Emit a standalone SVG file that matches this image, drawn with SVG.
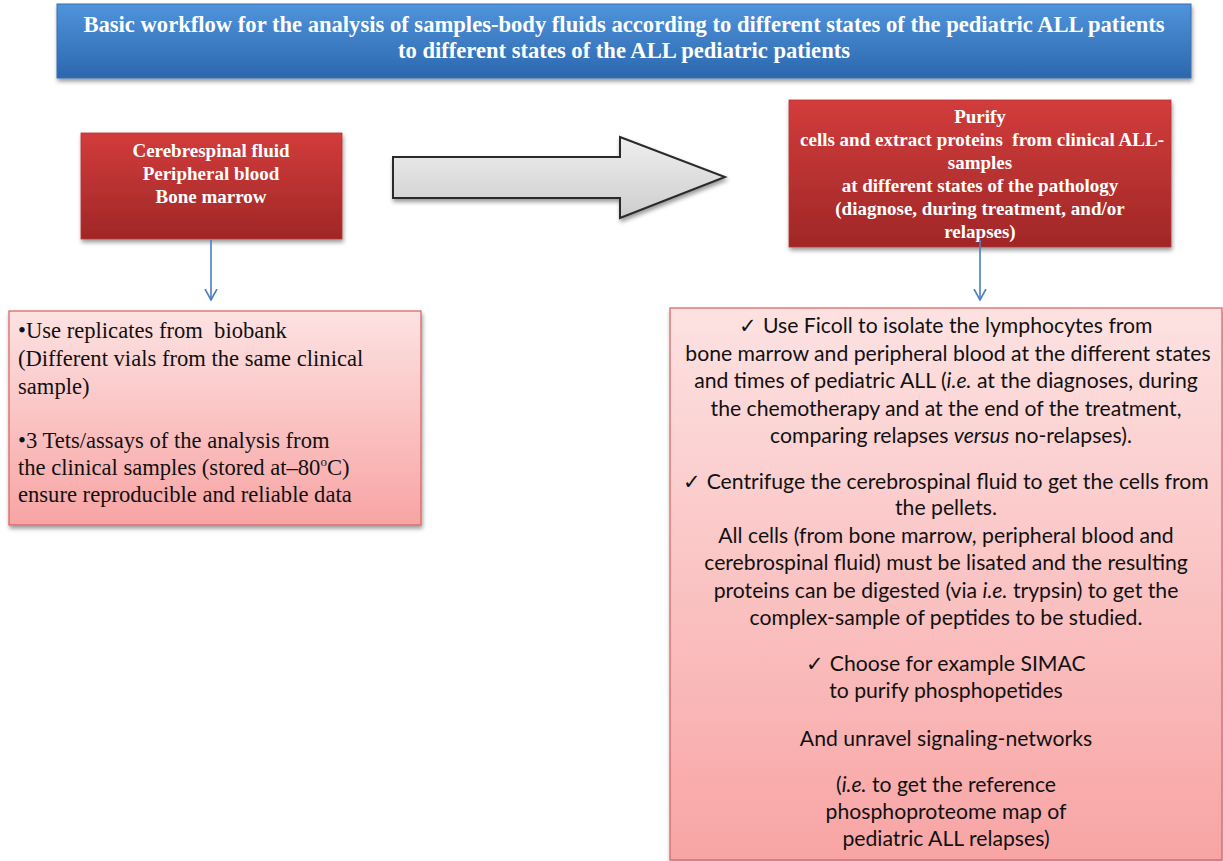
<svg xmlns="http://www.w3.org/2000/svg" width="1223" height="861" viewBox="0 0 1223 861">
<defs>
<linearGradient id="gBlue" x1="0" y1="0" x2="0" y2="1">
<stop offset="0" stop-color="#4f94dc"/><stop offset="1" stop-color="#2c67ae"/>
</linearGradient>
<linearGradient id="gRed" x1="0" y1="0" x2="0" y2="1">
<stop offset="0" stop-color="#d23c3b"/><stop offset="1" stop-color="#a02727"/>
</linearGradient>
<linearGradient id="gPink" x1="0" y1="0" x2="0" y2="1">
<stop offset="0" stop-color="#fde2e2"/><stop offset="1" stop-color="#f8a4a4"/>
</linearGradient>
<linearGradient id="gGray" x1="0" y1="0" x2="0" y2="1">
<stop offset="0" stop-color="#efefef"/><stop offset="1" stop-color="#cdcdcd"/>
</linearGradient>
<filter id="sh" x="-5%" y="-10%" width="110%" height="125%">
<feDropShadow dx="1" dy="3" stdDeviation="2" flood-color="#000" flood-opacity="0.4"/>
</filter>
<marker id="vh" viewBox="0 0 12 14" refX="11" refY="7" markerWidth="12" markerHeight="14" markerUnits="userSpaceOnUse" orient="auto">
<path d="M0,1 L11,7 L0,13" fill="none" stroke="#4a7fc1" stroke-width="1.6"/>
</marker>
</defs>
<style>
.title{font-family:"Liberation Serif",serif;font-weight:bold;font-size:22.6px;fill:#fff;text-anchor:middle}
.red{font-family:"Liberation Serif",serif;font-weight:bold;font-size:19px;fill:#fff;text-anchor:middle}
.lt{font-family:"Liberation Serif",serif;font-size:22.6px;fill:#111}
.rt{font-family:Lato,"Liberation Sans",sans-serif;font-size:21.2px;fill:#111;text-anchor:middle}
.conn{stroke:#4a7fc1;stroke-width:1.6;fill:none}
</style>
<rect width="1223" height="861" fill="#fff"/>

<g id="title">
<rect x="57" y="4" width="1134" height="74" fill="url(#gBlue)" stroke="#3a6fae" stroke-width="1" filter="url(#sh)"/>
<text class="title" x="624" y="32">Basic workflow for the analysis of samples-body fluids according to different states of the pediatric ALL patients</text>
<text class="title" x="624" y="58">to different states of the ALL pediatric patients</text>
</g>

<g id="sources">
<rect x="81" y="133" width="261" height="106" fill="url(#gRed)" stroke="#b33" stroke-width="0.8" filter="url(#sh)"/>
<text class="red" x="211" y="157">Cerebrespinal fluid</text>
<text class="red" x="211" y="180">Peripheral blood</text>
<text class="red" x="211" y="203">Bone marrow</text>
</g>

<g id="big-arrow">
<path d="M393,157 L620,157 L620,137 L725,177 L620,218 L620,198 L393,198 Z" fill="url(#gGray)" stroke="#2a2a2a" stroke-width="2" stroke-linejoin="miter" filter="url(#sh)"/>
</g>

<g id="purify">
<rect x="789" y="100" width="382" height="147" fill="url(#gRed)" stroke="#b33" stroke-width="0.8" filter="url(#sh)"/>
<text class="red" x="980" y="123">Purify</text>
<text class="red" x="982" y="146" xml:space="preserve">cells and extract proteins  from clinical ALL-</text>
<text class="red" x="980" y="169">samples</text>
<text class="red" x="980" y="192">at different states of the pathology</text>
<text class="red" x="980" y="215">(diagnose, during treatment, and/or</text>
<text class="red" x="980" y="238">relapses)</text>
</g>

<g id="replicates">
<rect x="9" y="311" width="412" height="214" fill="url(#gPink)" stroke="#d9605f" stroke-width="1.2" filter="url(#sh)"/>
<text class="lt" x="18" y="338" xml:space="preserve">•Use replicates from  biobank</text>
<text class="lt" x="18" y="366">(Different vials from the same clinical</text>
<text class="lt" x="18" y="394">sample)</text>
<text class="lt" x="18" y="448">•3 Tets/assays of the analysis from</text>
<text class="lt" x="18" y="475">the clinical samples (stored at–80<tspan font-size="13" dy="-9">o</tspan><tspan dy="9">C)</tspan></text>
<text class="lt" x="18" y="502">ensure reproducible and reliable data</text>
</g>

<g id="protocol">
<rect x="670" y="308" width="552" height="552" fill="url(#gPink)" stroke="#d9605f" stroke-width="1.2" filter="url(#sh)"/>
<text class="rt" x="946" y="333">✓ Use Ficoll to isolate the lymphocytes from</text>
<text class="rt" x="948" y="361">bone marrow and peripheral blood at the different states</text>
<text class="rt" x="946" y="388">and times of pediatric ALL (<tspan font-style="italic">i.e.</tspan> at the diagnoses, during</text>
<text class="rt" x="946" y="416">the chemotherapy and at the end of the treatment,</text>
<text class="rt" x="951" y="443">comparing relapses <tspan font-style="italic">versus</tspan> no-relapses).</text>
<text class="rt" x="946" y="489">✓ Centrifuge the cerebrospinal fluid to get the cells from</text>
<text class="rt" x="946" y="515">the pellets.</text>
<text class="rt" x="946" y="543">All cells (from bone marrow, peripheral blood and</text>
<text class="rt" x="946" y="570">cerebrospinal fluid) must be lisated and the resulting</text>
<text class="rt" x="946" y="598">proteins can be digested (via <tspan font-style="italic">i.e.</tspan> trypsin) to get the</text>
<text class="rt" x="946" y="625">complex-sample of peptides to be studied.</text>
<text class="rt" x="946" y="671">✓ Choose for example SIMAC</text>
<text class="rt" x="946" y="698">to purify phosphopetides</text>
<text class="rt" x="946" y="746">And unravel signaling-networks</text>
<text class="rt" x="946" y="792">(<tspan font-style="italic">i.e.</tspan> to get the reference</text>
<text class="rt" x="946" y="819">phosphoproteome map of</text>
<text class="rt" x="946" y="846">pediatric ALL relapses)</text>
</g>

<g id="connectors">
<line class="conn" x1="211" y1="240" x2="211" y2="300" marker-end="url(#vh)"/>
<line class="conn" x1="980" y1="240" x2="980" y2="300" marker-end="url(#vh)"/>
</g>
</svg>
